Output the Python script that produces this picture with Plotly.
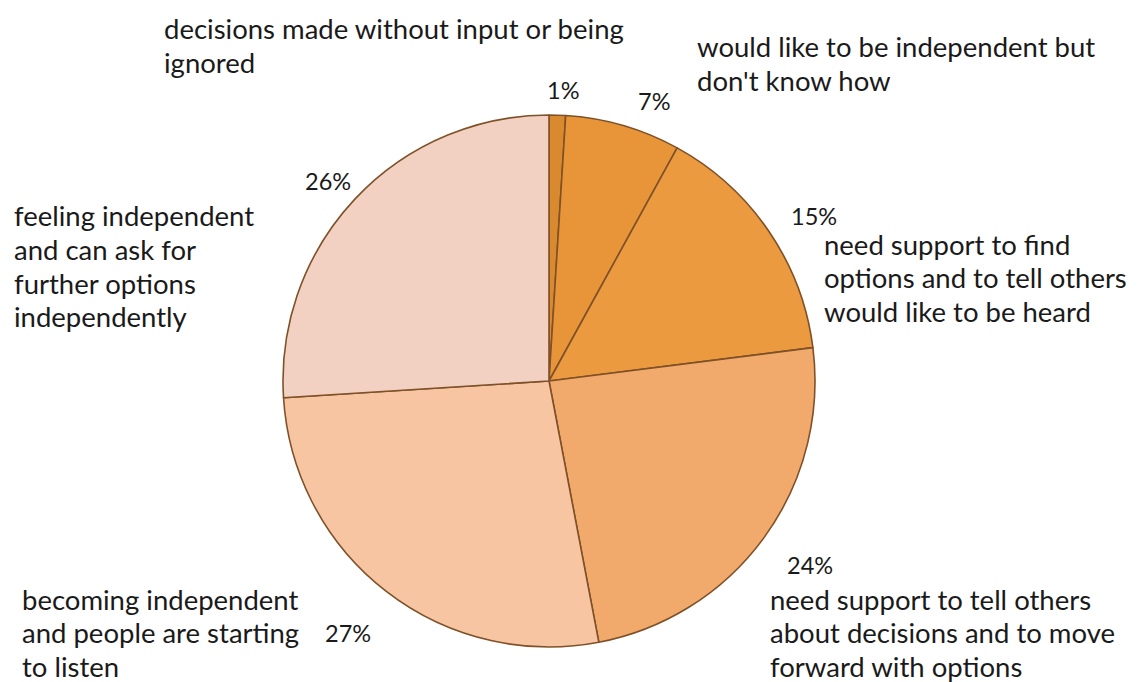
import plotly.graph_objects as go

# Shares of respondents, clockwise from 12 o'clock
categories = [
    "decisions made without input or being ignored",
    "would like to be independent but don't know how",
    "need support to find options and to tell others would like to be heard",
    "need support to tell others about decisions and to move forward with options",
    "becoming independent and people are starting to listen",
    "feeling independent and can ask for further options independently",
]
values = [1, 7, 15, 24, 27, 26]

# Category captions broken over lines as they are set on the page
caption_lines = [
    ["decisions made without input or being", "ignored"],
    ["would like to be independent but", "don't know how"],
    ["need support to find", "options and to tell others", "would like to be heard"],
    ["need support to tell others", "about decisions and to move", "forward with options"],
    ["becoming independent", "and people are starting", "to listen"],
    ["feeling independent", "and can ask for", "further options", "independently"],
]

colors = ["#d98a2e", "#e8953a", "#eb9a40", "#f2aa6c", "#f8c5a2", "#f2d1c2"]

W, H = 1137, 682
FONT = "Lato"
FS = 27.5
PCT_FS = 23.5
LINE = 33.5

# Pie centre and radius in pixels
cx, cy, r = 549, 381, 266

fig = go.Figure(
    go.Pie(
        labels=categories,
        values=values,
        sort=False,
        direction="clockwise",
        rotation=0,
        textinfo="none",
        hoverinfo="label+percent",
        marker=dict(colors=colors, line=dict(color="#7f5128", width=1.6)),
        domain=dict(x=[(cx - r) / W, (cx + r) / W], y=[(H - cy - r) / H, (H - cy + r) / H]),
        showlegend=False,
    )
)

# Anchor (left x, first-line centre y) of each caption, in pixels
caption_pos = [(162, 29), (695, 47), (822, 244), (768, 599), (20, 599), (12, 216)]
# Anchor (left x, centre y) of each percentage label
pct_pos = [(545, 90), (636, 101), (789, 216), (785, 565), (323, 633), (303, 181)]

annotations = []
for (px, py), lines in zip(caption_pos, caption_lines):
    for i, line in enumerate(lines):
        annotations.append(
            dict(
                x=px / W, y=1 - (py + i * LINE) / H, xref="paper", yref="paper",
                text=line, showarrow=False, xanchor="left", yanchor="middle",
                font=dict(family=FONT, size=FS, color="#1a1a1a"),
            )
        )
for (px, py), v in zip(pct_pos, values):
    annotations.append(
        dict(
            x=px / W, y=1 - py / H, xref="paper", yref="paper",
            text=f"{v}%", showarrow=False, xanchor="left", yanchor="middle",
            font=dict(family=FONT, size=PCT_FS, color="#1a1a1a"),
        )
    )

fig.update_layout(
    width=W, height=H,
    margin=dict(l=0, r=0, t=0, b=0),
    paper_bgcolor="white", plot_bgcolor="white",
    annotations=annotations,
)

fig.write_html("out.html")
